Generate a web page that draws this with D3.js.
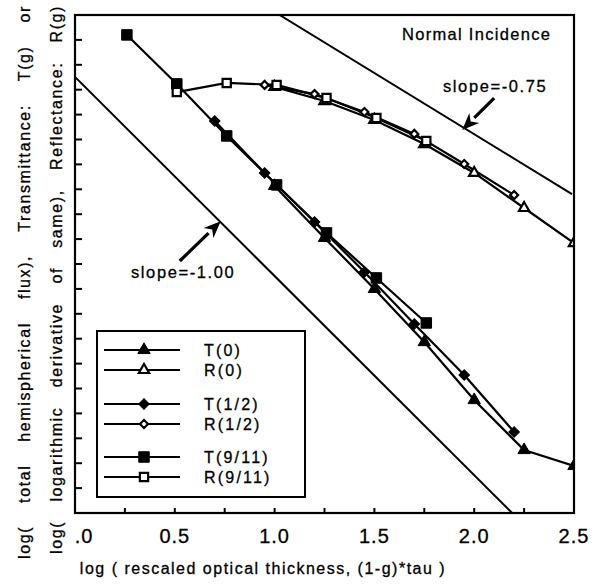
<!DOCTYPE html>
<html><head><meta charset="utf-8">
<script src="https://cdn.jsdelivr.net/npm/d3@7"></script>
<style>
body{margin:0;background:#fff}
svg text{font-family:"Liberation Sans",Arial,Helvetica,sans-serif;fill:#000;stroke:#000;stroke-width:0.3}
</style>
</head><body><svg id="c" width="598" height="585"></svg>
<script>
// ---- data (log rescaled optical thickness vs log flux) ----
const t0X   = [1.00, 1.25, 1.50, 1.75, 2.00, 2.25, 2.50];
const t0Y   = [-0.858, -1.119, -1.375, -1.642, -1.933, -2.184, -2.264];
const r0X   = [1.00, 1.25, 1.50, 1.75, 2.00, 2.25, 2.50];
const r0Y   = [-0.361, -0.432, -0.527, -0.648, -0.793, -0.969, -1.145];
const tHalfX = [0.70, 0.95, 1.20, 1.45, 1.70, 1.95, 2.20];
const tHalfY = [-0.532, -0.793, -1.039, -1.290, -1.551, -1.807, -2.093];
const rHalfX = [0.95, 1.20, 1.45, 1.70, 1.95, 2.20];
const rHalfY = [-0.351, -0.397, -0.487, -0.597, -0.748, -0.904];
const t911X = [0.26, 0.51, 0.76, 1.01, 1.26, 1.51, 1.76];
const t911Y = [-0.100, -0.346, -0.607, -0.853, -1.094, -1.320, -1.546];
const r911X = [0.51, 0.76, 1.01, 1.26, 1.51, 1.76];
const r911Y = [-0.387, -0.341, -0.351, -0.417, -0.517, -0.633];

const seriesNames = ["T(0)", "R(0)", "T(1/2)", "R(1/2)", "T(9/11)", "R(9/11)"];

// reference slope lines (endpoints in data units)
const slope100 = [[0.0, -0.311], [2.19, -2.5]];
const slope075 = [[1.025, 0.0], [2.49, -0.899]];

// tick values / labels
const xTickVals = [0, 0.25, 0.5, 0.75, 1.0, 1.25, 1.5, 1.75, 2.0, 2.25, 2.5];
const xLabelVals = [0, 0.5, 1.0, 1.5, 2.0, 2.5];
const xLabelText = [".0", "0.5", "1.0", "1.5", "2.0", "2.5"];
const yTickVals = d3.range(1, 20).map(i => -2.5 + i * 0.125);

const xTitle = "log ( rescaled optical thickness, (1-g)*tau )";
const yTitleLeft = ["log(", "total", "hemispherical", "flux),", "Transmittance:", "T(g)", "or"];
const yTitleRight = ["log(", "logarithmic", "derivative", "of", "same),", "Reflectance:", "R(g)"];

// ---- drawing ----
const svg = d3.select("#c");
const x = d3.scaleLinear().domain([0, 2.5]).range([75, 574]);
const y = d3.scaleLinear().domain([-2.5, 0]).range([513, 15]);

svg.append("defs").append("clipPath").attr("id", "plotclip")
  .append("rect").attr("x", 75).attr("y", 15).attr("width", 499).attr("height", 498);

const plot = svg.append("g").attr("clip-path", "url(#plotclip)");

// reference lines
[slope100, slope075].forEach(seg => {
  plot.append("line")
    .attr("x1", x(seg[0][0])).attr("y1", y(seg[0][1]))
    .attr("x2", x(seg[1][0])).attr("y2", y(seg[1][1]))
    .attr("stroke", "#000").attr("stroke-width", 2);
});

const series = [
  {name: seriesNames[0], xs: t0X, ys: t0Y, sym: "tri", filled: true},
  {name: seriesNames[1], xs: r0X, ys: r0Y, sym: "tri", filled: false},
  {name: seriesNames[2], xs: tHalfX, ys: tHalfY, sym: "dia", filled: true},
  {name: seriesNames[3], xs: rHalfX, ys: rHalfY, sym: "dia", filled: false},
  {name: seriesNames[4], xs: t911X, ys: t911Y, sym: "sq", filled: true},
  {name: seriesNames[5], xs: r911X, ys: r911Y, sym: "sq", filled: false}
];

function marker(g, s, px, py) {
  let path, rot = 0;
  if (s.sym === "tri") path = d3.symbol().type(d3.symbolTriangle).size(s.filled ? 66 : 46)();
  else if (s.sym === "dia") { path = d3.symbol().type(d3.symbolSquare).size(s.filled ? 56 : 32)(); rot = 45; }
  else path = d3.symbol().type(d3.symbolSquare).size(s.filled ? 110 : 68)();
  g.append("path").attr("d", path)
    .attr("transform", `translate(${px},${py}) rotate(${rot})`)
    .attr("fill", s.filled ? "#000" : "#fff")
    .attr("stroke", "#000").attr("stroke-width", s.filled ? 1 : 2.2);
}

const line = d3.line().x(d => x(d[0])).y(d => y(d[1]));
series.forEach(s => {
  const pts = s.xs.map((v, i) => [v, s.ys[i]]);
  plot.append("path").attr("d", line(pts)).attr("fill", "none")
    .attr("stroke", "#000").attr("stroke-width", 2.2);
});
series.forEach(s => {
  s.xs.forEach((v, i) => marker(plot, s, x(v), y(s.ys[i])));
});

// frame
svg.append("rect").attr("x", 75).attr("y", 15).attr("width", 499).attr("height", 498)
  .attr("fill", "none").attr("stroke", "#000").attr("stroke-width", 2.2);

// x ticks (inward)
svg.append("g").selectAll("line").data(xTickVals).join("line")
  .attr("x1", d => x(d)).attr("x2", d => x(d))
  .attr("y1", 513).attr("y2", 508)
  .attr("stroke", "#000").attr("stroke-width", 2);
// y ticks (inward)
svg.append("g").selectAll("line").data(yTickVals).join("line")
  .attr("x1", 75).attr("x2", 82)
  .attr("y1", d => y(d)).attr("y2", d => y(d))
  .attr("stroke", "#000").attr("stroke-width", 2);

// x tick labels
svg.append("g").selectAll("text").data(xLabelVals).join("text")
  .attr("x", (d, i) => x(d) + (i === 0 ? 9 : 0)).attr("y", 543)
  .attr("text-anchor", "middle").attr("font-size", 20).attr("letter-spacing", 1)
  .text((d, i) => xLabelText[i]);

// x title
svg.append("text").attr("x", 263).attr("y", 574).attr("text-anchor", "middle")
  .attr("font-size", 16).attr("letter-spacing", 1.5).text(xTitle);

// y titles (justified words, rotated)
function column(words, bx, yBottom, yTop) {
  const g = svg.append("g");
  const els = words.map(w => g.append("text").attr("font-size", 16)
    .attr("letter-spacing", 1.6).text(w));
  const widths = els.map(e => e.node().getComputedTextLength());
  const total = widths.reduce((a, b) => a + b, 0);
  const gap = ((yBottom - yTop) - total) / (words.length - 1);
  let pos = yBottom;
  els.forEach((e, i) => {
    e.attr("transform", `translate(${bx},${pos}) rotate(-90)`);
    pos -= widths[i] + gap;
  });
}
column(yTitleLeft, 30, 559, 5);
column(yTitleRight, 62, 554, 5);

// annotations
svg.append("text").attr("x", 402).attr("y", 40).attr("font-size", 16.5)
  .attr("letter-spacing", 1.3).text("Normal Incidence");
svg.append("text").attr("x", 443).attr("y", 92).attr("font-size", 16.5)
  .attr("letter-spacing", 1.6).text("slope=-0.75");
svg.append("text").attr("x", 131).attr("y", 278).attr("font-size", 16.5)
  .attr("letter-spacing", 1.6).text("slope=-1.00");

function arrow(x0, y0, x1, y1) {
  const ang = Math.atan2(y1 - y0, x1 - x0);
  const L = 17, W = 7;
  const bx = x1 - L * Math.cos(ang), by = y1 - L * Math.sin(ang);
  svg.append("line").attr("x1", x0).attr("y1", y0).attr("x2", bx).attr("y2", by)
    .attr("stroke", "#000").attr("stroke-width", 3.2);
  const px = -Math.sin(ang) * W, py = Math.cos(ang) * W;
  svg.append("path")
    .attr("d", `M${x1},${y1}L${bx + px},${by + py}L${bx + 0.3 * L * Math.cos(ang)},${by + 0.3 * L * Math.sin(ang)}L${bx - px},${by - py}Z`)
    .attr("fill", "#000");
}
arrow(x(0.525), y(-1.235), x(0.73), y(-1.035));
arrow(x(2.10), y(-0.417), x(1.94), y(-0.577));

// legend
const lg = svg.append("g");
lg.append("rect").attr("x", 97).attr("y", 331).attr("width", 208).attr("height", 166)
  .attr("fill", "#fff").attr("stroke", "#000").attr("stroke-width", 2);
const legY = [350, 370, 404, 424, 457, 477];
series.forEach((s, i) => {
  lg.append("line").attr("x1", 104).attr("x2", 180).attr("y1", legY[i]).attr("y2", legY[i])
    .attr("stroke", "#000").attr("stroke-width", 2.2);
  marker(lg, s, 144, legY[i]);
  lg.append("text").attr("x", 204).attr("y", legY[i] + 6).attr("font-size", 16)
    .attr("letter-spacing", 2.2).text(s.name);
});
</script>
</body></html>
